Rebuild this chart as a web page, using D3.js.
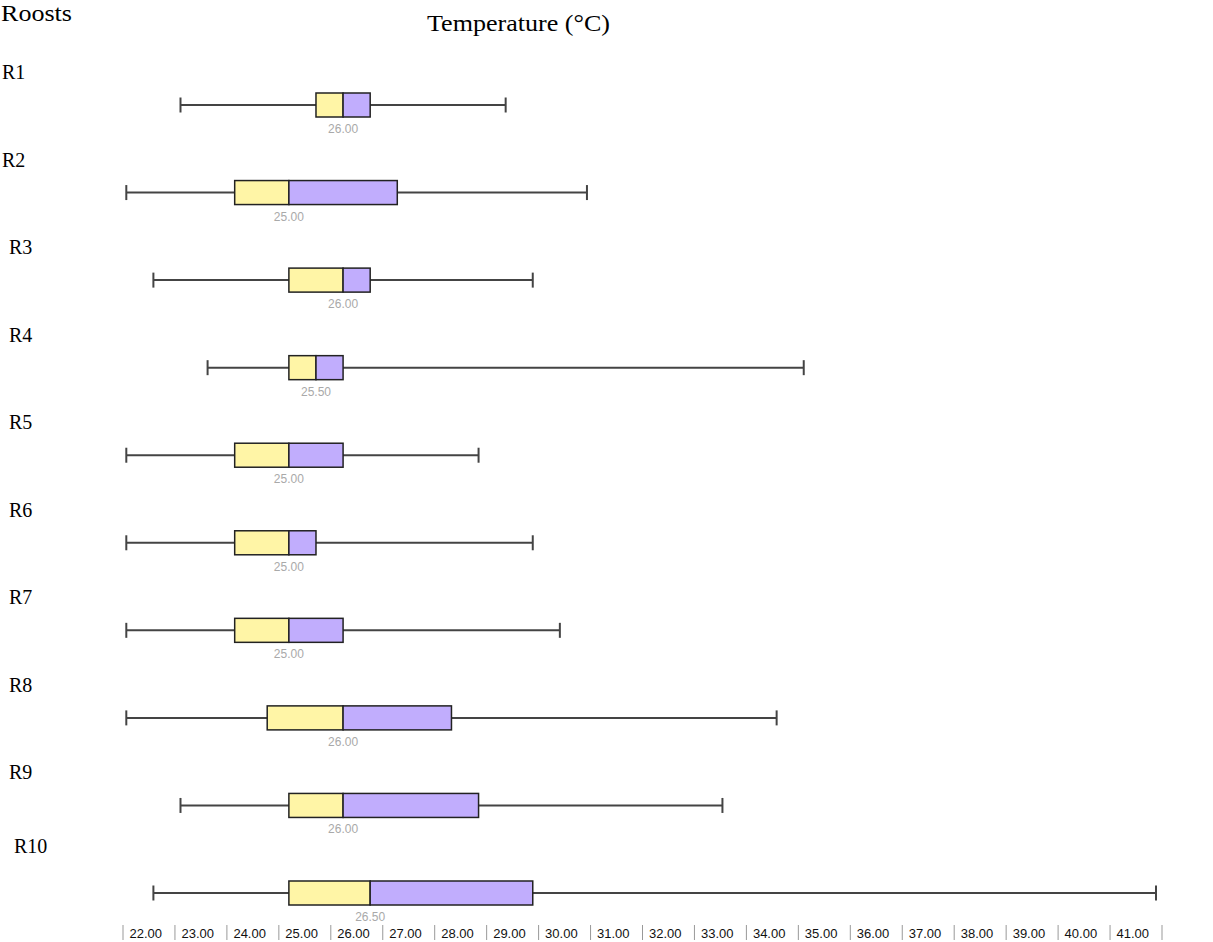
<!DOCTYPE html>
<html>
<head>
<meta charset="utf-8">
<script src="https://cdn.jsdelivr.net/npm/d3@7"></script>
<style>
    body { margin: 0; background: #fff; }
    svg { display: block; }
</style>
</head>
<body>
<div id="chart"></div>
<script>
// roost temperature summaries (°C)
const roosts = ['R1', 'R2', 'R3', 'R4', 'R5', 'R6', 'R7', 'R8', 'R9', 'R10'];
const tMin = [23, 22, 22.5, 23.5, 22, 22, 22, 22, 23, 22.5];
const tQ1 = [25.5, 24, 25, 25, 24, 24, 24, 24.6, 25, 25];
const tMedian = [26, 25, 26, 25.5, 25, 25, 25, 26, 26, 26.5];
const tQ3 = [26.5, 27, 26.5, 26, 26, 25.5, 26, 28, 28.5, 29.5];
const tMax = [29, 30.5, 29.5, 34.5, 28.5, 29.5, 30, 34, 33, 41];
const tickValues = [22, 23, 24, 25, 26, 27, 28, 29, 30, 31, 32, 33, 34, 35, 36, 37, 38, 39, 40, 41];

const width = 1213, height = 942;

let rows = roosts.map(function (r, i) {
    return { name: r, min: tMin[i], q1: tQ1[i], med: tMedian[i], q3: tQ3[i], max: tMax[i], i: i };
});

let svg = d3.select('#chart').append('svg')
    .attr('width', width)
    .attr('height', height);

let x = d3.scaleLinear().domain([22, 41]).range([126.3, 1156]);
let y = d3.scalePoint().domain(roosts).range([105, 893]);
// the label strip at the bottom is spaced a little tighter than the boxes
let xTick = d3.scaleLinear().domain([22, 42]).range([123, 1162]);

const boxH = 24, capH = 15;

// headers
svg.append('text')
    .attr('x', 1).attr('y', 21)
    .attr('font-family', 'Liberation Serif, Times New Roman, serif')
    .attr('font-size', 24)
    .attr('textLength', 71).attr('lengthAdjust', 'spacingAndGlyphs')
    .text('Roosts');

svg.append('text')
    .attr('x', 427).attr('y', 31)
    .attr('font-family', 'Liberation Serif, Times New Roman, serif')
    .attr('font-size', 24)
    .attr('textLength', 183).attr('lengthAdjust', 'spacingAndGlyphs')
    .text('Temperature (°C)');

// row labels sit a bit off the grid, as in the source figure
function labelX(i) {
    if (i < 2) return 2;
    if (i == roosts.length - 1) return 14;
    return 9;
}
function labelY(d) {
    return y(d.name) - (d.i == roosts.length - 1 ? 40 : 26);
}

svg.selectAll('.rlabel')
    .data(rows)
    .join('text')
    .attr('class', 'rlabel')
    .attr('x', function (d) { return labelX(d.i); })
    .attr('y', labelY)
    .attr('font-family', 'Liberation Serif, Times New Roman, serif')
    .attr('font-size', 20)
    .text(function (d) { return d.name; });

let g = svg.selectAll('.box')
    .data(rows)
    .join('g')
    .attr('class', 'box')
    .attr('transform', function (d) { return `translate(0,${y(d.name)})`; });

// whiskers
g.append('line')
    .attr('x1', function (d) { return x(d.min); })
    .attr('x2', function (d) { return x(d.max); })
    .attr('stroke', '#444').attr('stroke-width', 2);

g.selectAll('.cap')
    .data(function (d) { return [d.min, d.max]; })
    .join('line')
    .attr('class', 'cap')
    .attr('x1', function (v) { return x(v); })
    .attr('x2', function (v) { return x(v); })
    .attr('y1', -capH / 2).attr('y2', capH / 2)
    .attr('stroke', '#444').attr('stroke-width', 2);

// lower half (yellow) and upper half (purple)
g.append('rect')
    .attr('x', function (d) { return x(d.q1); })
    .attr('y', -boxH / 2)
    .attr('width', function (d) { return x(d.med) - x(d.q1); })
    .attr('height', boxH)
    .attr('fill', '#fff5a6')
    .attr('stroke', '#222').attr('stroke-width', 1.5);

g.append('rect')
    .attr('x', function (d) { return x(d.med); })
    .attr('y', -boxH / 2)
    .attr('width', function (d) { return x(d.q3) - x(d.med); })
    .attr('height', boxH)
    .attr('fill', '#c1adfd')
    .attr('stroke', '#222').attr('stroke-width', 1.5);

g.append('text')
    .attr('x', function (d) { return x(d.med); })
    .attr('y', boxH / 2 + 16)
    .attr('text-anchor', 'middle')
    .attr('font-family', 'Liberation Sans, Arial, sans-serif')
    .attr('font-size', 12)
    .attr('fill', '#a9a9a9')
    .text(function (d) { return d.med.toFixed(2); });

// bottom scale: "| 22.00 | 23.00 ..." strip
let axis = d3.axisBottom(xTick)
    .tickValues(tickValues)
    .tickSize(0)
    .tickPadding(0)
    .tickFormat(function (d) { return d.toFixed(2); });

let ax = svg.append('g')
    .attr('transform', 'translate(0,925)')
    .call(axis);
ax.select('.domain').remove();
ax.selectAll('.tick text')
    .attr('text-anchor', 'start')
    .attr('x', 6)
    .attr('y', 13)
    .attr('dy', null)
    .attr('fill', '#111')
    .attr('font-family', 'Liberation Sans, Arial, sans-serif')
    .attr('font-size', 13);

ax.selectAll('.sep')
    .data(tickValues.concat([42]))
    .join('line')
    .attr('class', 'sep')
    .attr('x1', function (d) { return xTick(d); })
    .attr('x2', function (d) { return xTick(d); })
    .attr('y1', 0).attr('y2', 15)
    .attr('stroke', '#999').attr('stroke-width', 1);
</script>
</body>
</html>
